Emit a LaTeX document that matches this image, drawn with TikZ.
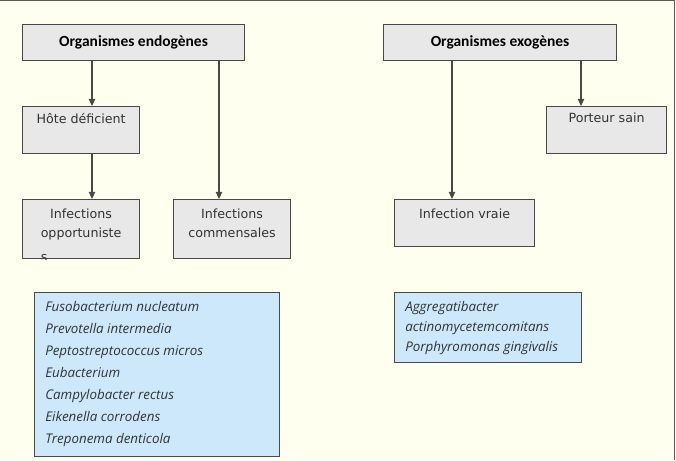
\documentclass[tikz,border=0pt]{standalone}
\usepackage{fontspec}
\setmainfont{DejaVu Sans}
\newfontfamily\headfont{Carlito}
\newfontfamily\listfont{Open Sans}
\usepackage{tikz}
\usetikzlibrary{positioning, arrows.meta}

\definecolor{paper}{HTML}{FFFFF0}
\definecolor{boxgray}{HTML}{E8E8E8}
\definecolor{boxline}{HTML}{4A4A44}
\definecolor{listblue}{HTML}{CCE8FA}
\definecolor{frameline}{HTML}{5A5A52}

\begin{document}
\begin{tikzpicture}[
    x=0.025cm, y=-0.025cm,
    box/.style={draw=boxline, fill=boxgray, line width=0.8pt, inner sep=0pt, anchor=north west},
    head/.style={box, font=\headfont\bfseries\fontsize{11}{13}\selectfont},
    lbl/.style={inner sep=0pt, align=center, font=\fontsize{9}{13.5}\selectfont, text=black!80},
    species/.style={draw=boxline, fill=listblue, line width=0.8pt, inner sep=0pt, anchor=north west},
    lst/.style={inner sep=0pt, align=left, anchor=north west, font=\listfont\itshape\fontsize{9.5}{15.6}\selectfont, text=black!80},
    arr/.style={line width=0.8pt, draw=boxline, -{Triangle[length=5pt, width=4.5pt]}},
]
% Background and frame
\fill[paper] (0,0) rectangle (676,460);
\useasboundingbox (0,0) rectangle (676,460);
\draw[frameline, line width=1.4pt] (0,0.5) -- (674.5,0.5) -- (674.5,460);

% Top level
\node[head, minimum width=222*0.025cm, minimum height=36*0.025cm] (endo) at (22,24) {Organismes endogènes};
\node[head, minimum width=233*0.025cm, minimum height=36*0.025cm] (exo) at (383,24) {Organismes exogènes};

% Second level
\node[box, minimum width=117*0.025cm, minimum height=47*0.025cm] (hote) at (22,106) {};
\node[lbl, below=5pt of hote.north] (hotetxt) {Hôte déficient};
\node[box, minimum width=120*0.025cm, minimum height=47*0.025cm] (porteur) at (546,106) {};
\node[lbl, below=5pt of porteur.north] (porteurtxt) {Porteur sain};

% Third level
\node[box, minimum width=117*0.025cm, minimum height=59*0.025cm] (opp) at (22,199) {};
\begin{scope}
  \clip (opp.north west) rectangle (opp.south east);
  \node[lbl, below=7pt of opp.north] (opptxt) {Infections\\opportuniste\\[3.5pt]\rlap{s}\phantom{opportuniste}};
\end{scope}
\node[box, minimum width=117*0.025cm, minimum height=59*0.025cm] (comm) at (173,199) {};
\node[lbl, below=7pt of comm.north] (commtxt) {Infections\\commensales};
\node[box, minimum width=140*0.025cm, minimum height=47*0.025cm] (vraie) at (394,199) {};
\node[lbl, below=7pt of vraie.north] (vraietxt) {Infection vraie};

% Species lists
\node[species, minimum width=245*0.025cm, minimum height=164*0.025cm] (endolist) at (34,292) {};
\node[lst] (endospp) at (45,301) {Fusobacterium nucleatum\\Prevotella intermedia\\Peptostreptococcus micros\\Eubacterium\\Campylobacter rectus\\Eikenella corrodens\\Treponema denticola};
\node[species, minimum width=187*0.025cm, minimum height=70*0.025cm] (exolist) at (394,292) {};
\node[lst, font=\listfont\itshape\fontsize{9.5}{14.2}\selectfont] (exospp) at (405,301) {Aggregatibacter\\actinomycetemcomitans\\Porphyromonas gingivalis};

% Arrows
\coordinate (c1) at (92,0);
\coordinate (c2) at (219,0);
\coordinate (c3) at (452,0);
\coordinate (c4) at (581,0);
\draw[arr] (endo.south -| c1) -- (hote.north -| c1);
\draw[arr] (endo.south -| c2) -- (comm.north -| c2);
\draw[arr] (hote.south -| c1) -- (opp.north -| c1);
\draw[arr] (exo.south -| c3) -- (vraie.north -| c3);
\draw[arr] (exo.south -| c4) -- (porteur.north -| c4);

\end{tikzpicture}
\end{document}
